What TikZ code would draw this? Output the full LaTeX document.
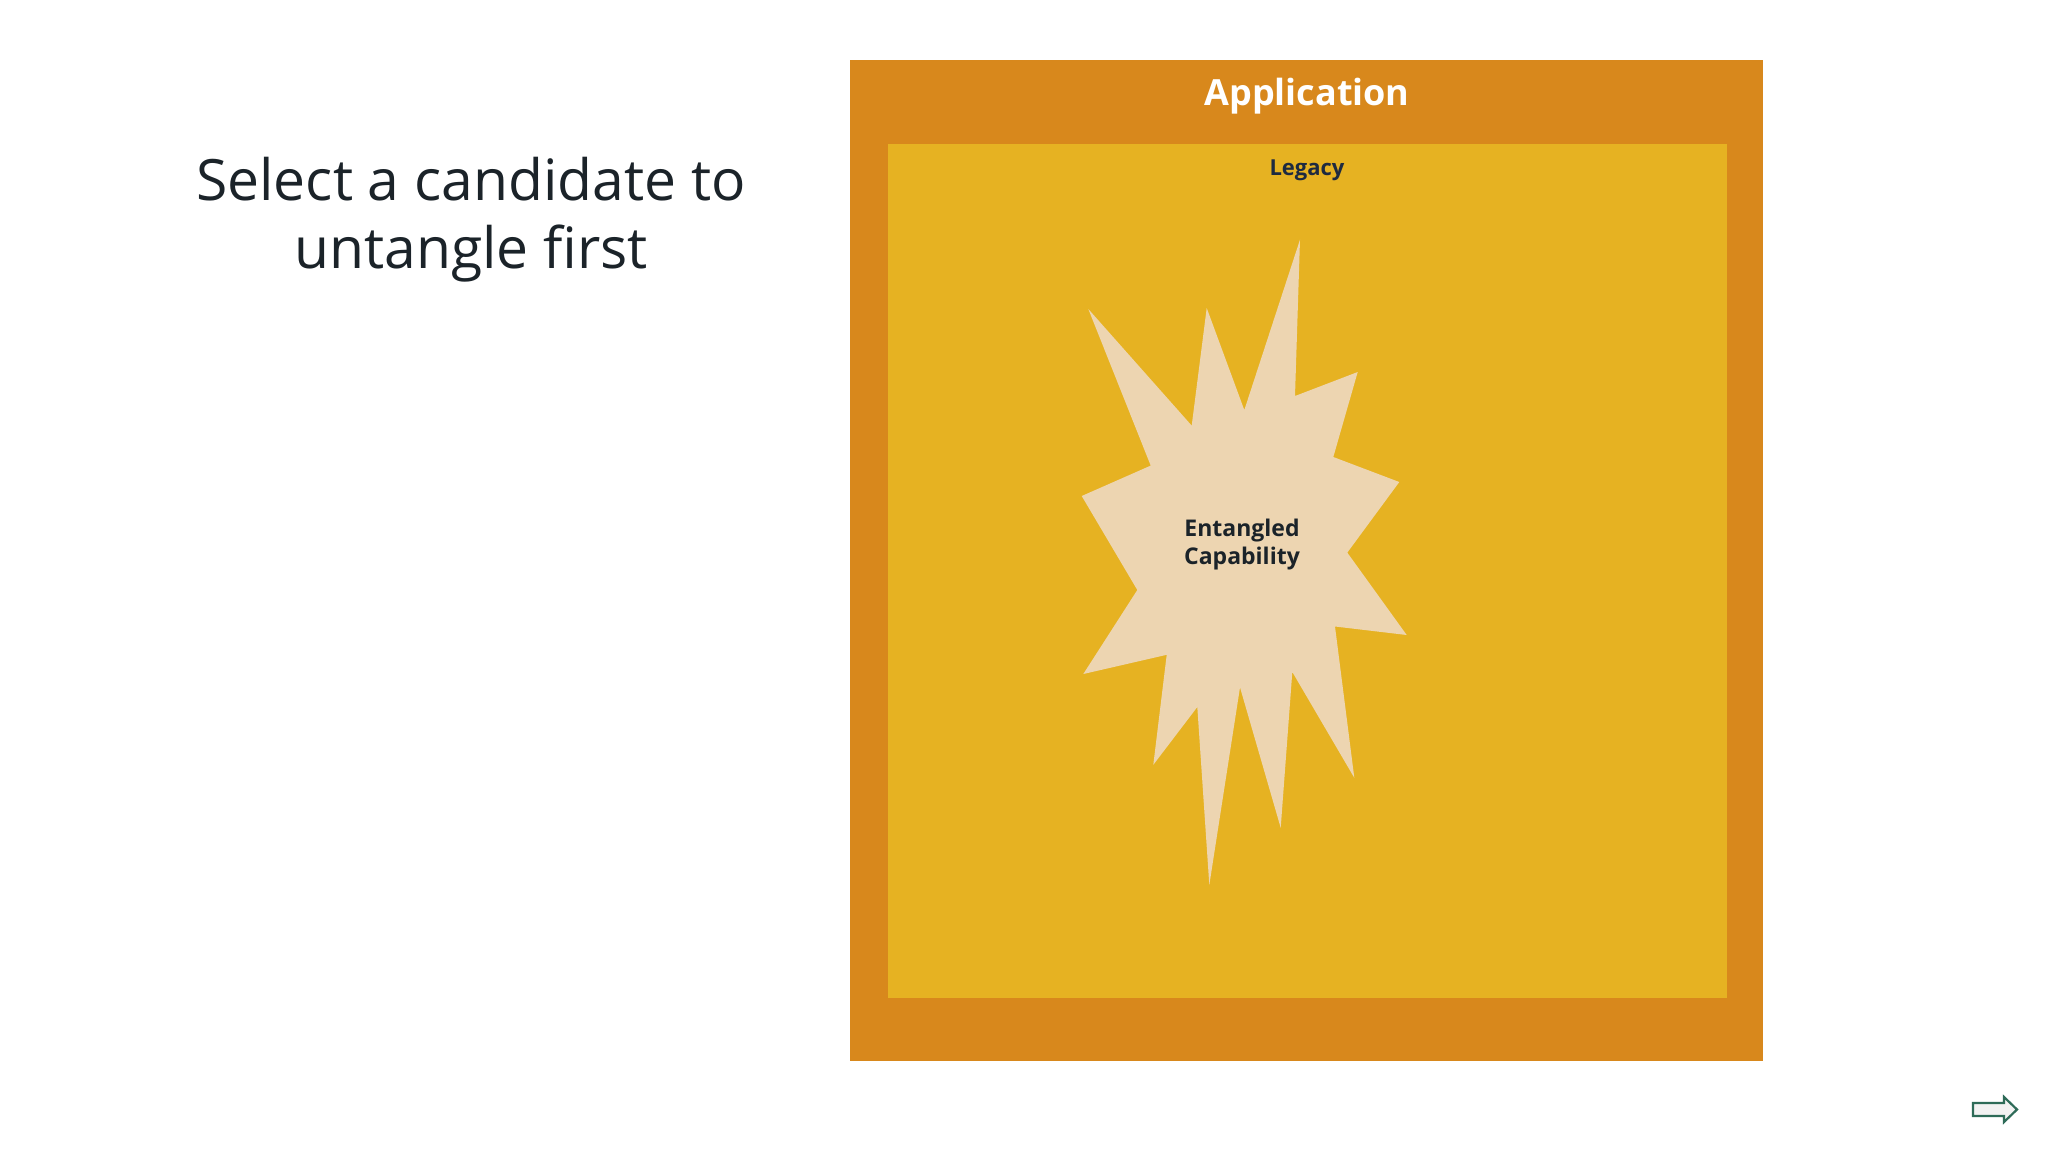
\documentclass[tikz,border=0pt]{standalone}
\usepackage{fontspec}
\setmainfont{Open Sans}
\definecolor{appor}{HTML}{D8881C}
\definecolor{legy}{HTML}{E6B222}
\definecolor{burst}{HTML}{EDD5B1}
\definecolor{ink}{HTML}{1B2329}
\definecolor{navy}{HTML}{1E2A40}
\definecolor{arrg}{HTML}{2E6B58}
\definecolor{arrfill}{HTML}{F2F2F2}
\tikzset{
  boxstyle/.style={draw=none, inner sep=0pt, outer sep=0pt},
  lbl/.style={inner sep=0pt, font=\bfseries},
  navarrow/.style={draw=arrg, fill=arrfill, line width=2.2pt, line join=miter},
}
\begin{document}
\begin{tikzpicture}[x=1pt,y=-1pt]
\useasboundingbox[fill=white] (0,0) rectangle (2048,1152);
% boxes
\node[boxstyle, fill=appor, minimum width=913pt, minimum height=1001pt] (app) at (1306.5,560.5) {};
\node[boxstyle, fill=legy, minimum width=839pt, minimum height=854pt] (leg) at (1307.5,571) {};
% labels
\node[lbl, text=white, font=\bfseries\fontsize{36}{43}\selectfont] (applbl) at (1307,96) {Application};
\node[lbl, text=navy, font=\bfseries\fontsize{22}{26}\selectfont] (leglbl) at (1307,170) {Legacy};
% starburst
\fill[burst] (1300,239.6) -- (1295,396) -- (1357.7,372) -- (1333.3,457) -- (1399.3,482)
  -- (1347.3,552.6) -- (1406.7,635) -- (1335,626.5) -- (1354.3,777.8) -- (1292.3,672)
  -- (1280.7,827.8) -- (1240,687.4) -- (1209.3,885) -- (1197.3,707) -- (1153.3,764.8)
  -- (1166.7,654.8) -- (1083.3,674) -- (1137.3,590) -- (1081.7,496) -- (1150.7,465.6)
  -- (1088.3,309) -- (1191.7,425.6) -- (1206.7,308) -- (1244.3,410) -- cycle;
\node[lbl, text=ink, align=center, font=\bfseries\fontsize{23}{28}\selectfont] (ent) at (1242,545) {Entangled\\Capability};
% title
\node[inner sep=0pt, text=ink, align=center, font=\fontsize{57}{68}\selectfont] (title) at (471,220) {Select a candidate to\\untangle first};
% nav arrow
\coordinate (navtip) at (2017,1109.5);
\draw[navarrow] (1973,1103) -- (2004,1103) -- (2004,1097) -- (navtip) -- (2004,1122) -- (2004,1116) -- (1973,1116) -- cycle;
\end{tikzpicture}
\end{document}
